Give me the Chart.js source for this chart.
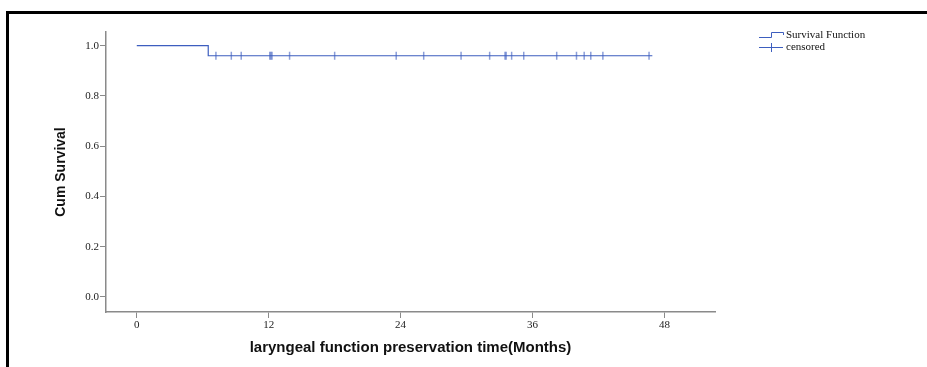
<!DOCTYPE html>
<html>
<head>
<meta charset="utf-8">
<script src="https://cdn.jsdelivr.net/npm/chart.js@4/dist/chart.umd.min.js"></script>
<style>
  html, body { margin: 0; padding: 0; background: #fff; }
  #wrap { width: 927px; height: 367px; position: relative; }
</style>
</head>
<body>
<div id="wrap"><canvas id="chart" width="927" height="367"></canvas></div>
<script>
// Kaplan-Meier: laryngeal function preservation

const eventTimes = [0, 6.5, 46.9];          // step points of the survival function
const eventSurvival = [1.0, 0.96, 0.96];
const censorTimes = [7.2, 8.6, 9.5, 12.1, 12.2, 12.3, 13.9, 18.0, 23.6, 26.1, 29.5,
  32.1, 33.5, 33.6, 34.1, 35.2, 38.2, 40.0, 40.7, 41.3, 42.4, 46.6];
const xTicks = [0, 12, 24, 36, 48];
const yTicks = [0, 0.2, 0.4, 0.6, 0.8, 1.0];
const legendLabels = ["Survival Function", "censored"];

const LINE_BLUE = "#3d5ebf";
const AXIS_GREY = "#8a8a8a";
const SERIF = "'Liberation Serif', 'DejaVu Serif', serif";
const SANS = "'Liberation Sans', Arial, sans-serif";

// survival value at time t, read from the step function
function survivalAt(t) {
  let s = eventSurvival[0];
  eventTimes.forEach((et, i) => { if (et <= t) s = eventSurvival[i]; });
  return s;
}

const survivalData = eventTimes.map((t, i) => ({ x: t, y: eventSurvival[i] }));
const censorData = censorTimes.map((t) => ({ x: t, y: survivalAt(t) }));

// frame + legend, drawn on the canvas
const framePlugin = {
  id: "frame",
  afterDraw(chart) {
    const ctx = chart.ctx;
    ctx.save();
    ctx.strokeStyle = "#000";
    ctx.lineWidth = 3;
    ctx.beginPath();
    ctx.moveTo(7.5, 367);
    ctx.lineTo(7.5, 12.5);
    ctx.lineTo(927, 12.5);
    ctx.stroke();

    // legend
    ctx.strokeStyle = LINE_BLUE;
    ctx.lineWidth = 1;
    ctx.beginPath();
    ctx.moveTo(759, 37.5);
    ctx.lineTo(771.5, 37.5);
    ctx.lineTo(771.5, 32.5);
    ctx.lineTo(783.5, 32.5);
    ctx.lineTo(783.5, 35);
    ctx.stroke();
    ctx.beginPath();
    ctx.moveTo(759, 47.5);
    ctx.lineTo(783, 47.5);
    ctx.moveTo(771.5, 43);
    ctx.lineTo(771.5, 52);
    ctx.stroke();

    ctx.fillStyle = "#111";
    ctx.font = "11px " + SERIF;
    ctx.textBaseline = "middle";
    ctx.textAlign = "left";
    ctx.fillText(legendLabels[0], 786, 35);
    ctx.fillText(legendLabels[1], 786, 47);
    ctx.restore();
  },
};

const chart = new Chart(document.getElementById("chart"), {
  type: "scatter",
  data: {
    datasets: [
      {
        label: legendLabels[0],
        data: survivalData,
        showLine: true,
        stepped: "before",
        borderColor: LINE_BLUE,
        borderWidth: 1.2,
        pointRadius: 0,
      },
      {
        label: legendLabels[1],
        data: censorData,
        showLine: false,
        pointStyle: "line",
        rotation: 90,
        pointRadius: 4,
        borderColor: "rgba(61,94,191,0.6)",
        pointBorderWidth: 1.5,
      },
    ],
  },
  options: {
    responsive: false,
    animation: false,
    layout: { padding: { top: 32, right: 212, left: 0, bottom: 0 } },
    plugins: {
      legend: { display: false },
      tooltip: { enabled: false },
    },
    scales: {
      x: {
        type: "linear",
        min: -2.8,
        max: 52.6,
        afterBuildTicks: (scale) => { scale.ticks = xTicks.map((v) => ({ value: v })); },
        afterFit: (scale) => { scale.height = 55; },
        grid: { display: true, drawOnChartArea: false, drawTicks: true, tickLength: 6, color: AXIS_GREY },
        border: { display: true, color: AXIS_GREY, width: 1.5 },
        ticks: { color: "#222", font: { family: SERIF, size: 11 }, padding: 1, maxRotation: 0 },
        title: {
          display: true,
          text: "laryngeal function preservation time(Months)",
          color: "#111",
          font: { family: SANS, size: 15, weight: "bold" },
          padding: { top: 0, bottom: 10 },
        },
      },
      y: {
        type: "linear",
        min: -0.0597,
        max: 1.0545,
        afterBuildTicks: (scale) => { scale.ticks = yTicks.map((v) => ({ value: v })); },
        afterFit: (scale) => { scale.width = 106; },
        grid: { display: true, drawOnChartArea: false, drawTicks: true, tickLength: 6, color: AXIS_GREY },
        border: { display: true, color: AXIS_GREY, width: 1.5 },
        ticks: {
          color: "#222",
          font: { family: SERIF, size: 11 },
          padding: 1,
          callback: (v) => v.toFixed(1),
        },
        title: {
          display: true,
          text: "Cum Survival",
          color: "#111",
          font: { family: SANS, size: 14, weight: "bold" },
          padding: { top: 53, bottom: 0 },
        },
      },
    },
  },
  plugins: [framePlugin],
});
</script>
</body>
</html>
